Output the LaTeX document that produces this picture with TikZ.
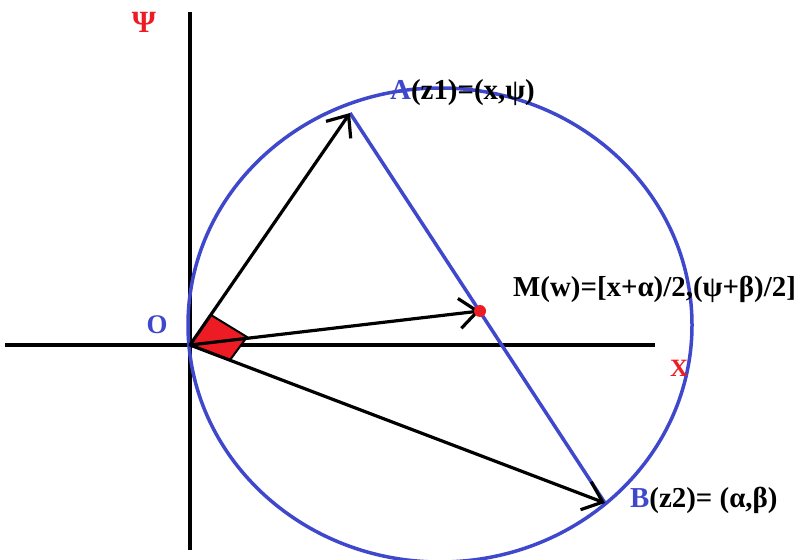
\documentclass[tikz,border=0pt]{standalone}
\usepackage{fontspec}
\setmainfont{Liberation Serif}
\usetikzlibrary{arrows.meta}
\definecolor{pblue}{RGB}{63,72,204}
\definecolor{pred}{RGB}{237,28,36}
\begin{document}
\begin{tikzpicture}[x=1bp,y=-1bp,
  axis/.style={line width=4bp, black},
  vec/.style={line width=3.2bp, -{Straight Barb[length=18bp,width=30bp,line width=3.2bp]}},
  lbl/.style={font=\fontsize{29}{33}\selectfont\bfseries, inner sep=0pt},
  axlbl/.style={font=\fontsize{31}{35}\selectfont\bfseries, inner sep=0pt}]
\useasboundingbox (0,0) rectangle (806,560);
\coordinate (O) at (190,345);
\coordinate (A) at (350,113);
\coordinate (M) at (480,311);
\coordinate (B) at (605,503);
\coordinate (C) at (440,325);
\coordinate (Q1) at (211,315);
\coordinate (Q2) at (247,337);
\coordinate (Q3) at (230,360);
\coordinate (Yt) at (190,12);
\coordinate (Yb) at (190,550);
\coordinate (Xl) at (5,345);
\coordinate (Xr) at (655,345);
% axes
\draw[axis] (Yt) -- (Yb);
\draw[axis] (Xl) -- (Xr);
% circle and chord
\draw[pblue, line width=3.5bp] (C) ellipse [x radius=252, y radius=237];
\draw[pblue, line width=3.5bp] (A) -- (B);
% right-angle marker
\draw[fill=pred, draw=black, line width=2bp] (O) -- (Q1) -- (Q2) -- (Q3) -- cycle;
% vectors
\draw[vec] (O) -- (A);
\draw[vec] (O) -- (M);
\draw[vec] (O) -- (B);
\fill[pred] (M) circle [radius=6];
% labels
\node[axlbl, text=pred] (psi) at (144,22) {Ψ};
\node[font=\fontsize{27}{31}\selectfont\bfseries, inner sep=0pt, text=pblue] (olbl) at (157,325) {O};
\node[font=\fontsize{25}{29}\selectfont\bfseries, inner sep=0pt, text=pred] (xlbl) at (679,368) {X};
\node[lbl, anchor=base west] (albl) at (390,100) {\textcolor{pblue}{A}(z1)=(x,ψ)};
\node[lbl, anchor=base west] (mlbl) at (513,297) {M(w)=[x+α)/2,(ψ+β)/2]};
\node[lbl, anchor=base west] (blbl) at (630,507) {\textcolor{pblue}{B}(z2)= (α,β)};
\end{tikzpicture}
\end{document}
